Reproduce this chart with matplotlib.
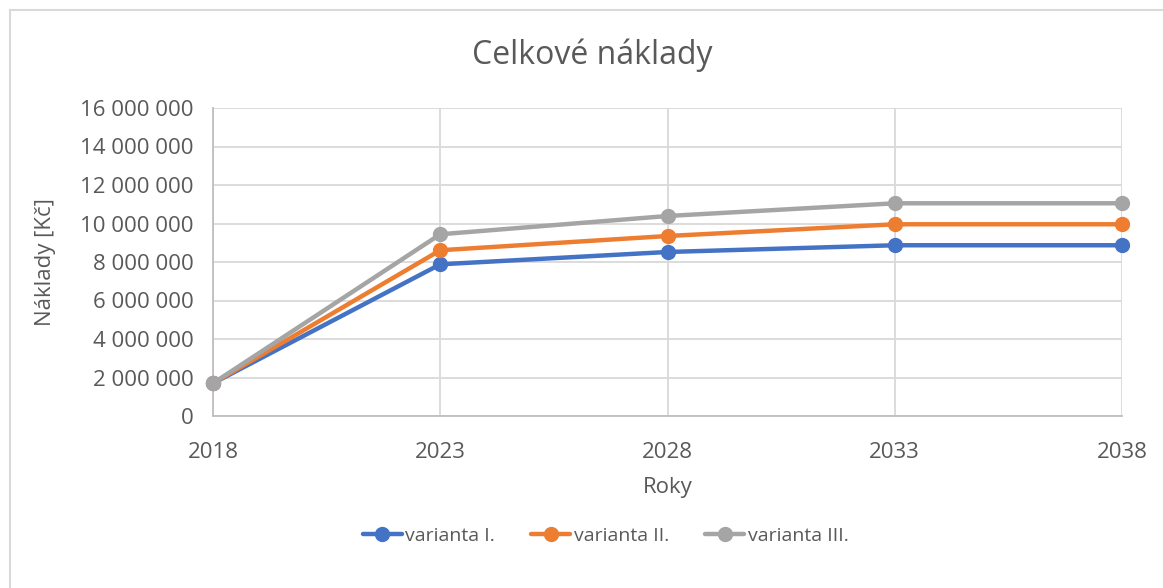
import matplotlib
matplotlib.use("Agg")
import matplotlib.pyplot as plt
from matplotlib.ticker import FuncFormatter, MultipleLocator
from matplotlib.lines import Line2D

plt.rcParams['font.family'] = ['Open Sans', 'DejaVu Sans']

years = [2018, 2023, 2028, 2033, 2038]
varianta_1 = [1700000, 7880000, 8520000, 8870000, 8870000]
varianta_2 = [1700000, 8610000, 9350000, 9960000, 9960000]
varianta_3 = [1700000, 9440000, 10390000, 11050000, 11050000]
series_names = ["varianta I.", "varianta II.", "varianta III."]
colors = ["#4472C4", "#ED7D31", "#A5A5A5"]

W, H = 1163, 588
fig = plt.figure(figsize=(W / 100, H / 100), dpi=100)

# chart border (left and top visible)
fig.add_artist(Line2D([9.5 / W, 9.5 / W], [0, 1 - 10 / H], transform=fig.transFigure,
                      color="#D9D9D9", lw=1.5))
fig.add_artist(Line2D([9.5 / W, 1], [1 - 10 / H, 1 - 10 / H], transform=fig.transFigure,
                      color="#D9D9D9", lw=1.5))

left, right, top, bottom = 213, 1122, 108, 416
ax = fig.add_axes([left / W, 1 - bottom / H, (right - left) / W, (bottom - top) / H])

for vals, name, c in zip([varianta_1, varianta_2, varianta_3], series_names, colors):
    ax.plot(years, vals, color=c, lw=3.2, marker='o', markersize=10, label=name,
            solid_capstyle='round', clip_on=False, zorder=3)

ax.set_xlim(2018, 2038)
ax.set_ylim(0, 16000000)
ax.set_xticks(years)
ax.yaxis.set_major_locator(MultipleLocator(2000000))
ax.yaxis.set_major_formatter(FuncFormatter(lambda v, p: f"{int(v):,}".replace(",", " ")))
ax.grid(True, color="#D9D9D9", lw=1.3)
ax.set_axisbelow(True)
for s in ["top", "right"]:
    ax.spines[s].set_visible(False)
for s in ["left", "bottom"]:
    ax.spines[s].set_color("#BFBFBF")
    ax.spines[s].set_linewidth(1.3)
ax.tick_params(length=0, labelsize=16, colors="#595959")
ax.tick_params(axis='y', pad=14)
ax.tick_params(axis='x', pad=19)

ax.set_xlabel("Roky", fontsize=16, color="#595959")
ax.set_ylabel("Náklady [Kč]", fontsize=16, color="#595959")
ax.xaxis.label.set_va('center')
ax.yaxis.label.set_va('center')
ax.yaxis.label.set_ha('center')
ax.xaxis.set_label_coords(0.5, (bottom - 487) / (bottom - top))
ax.yaxis.set_label_coords((45 - left) / (right - left), 0.5)

fig.text(592 / W, 1 - 55 / H, "Celkové náklady", ha='center', va='center',
         fontsize=23, color="#595959")

leg = ax.legend(loc='center', bbox_to_anchor=(0.432, (bottom - 536) / (bottom - top)),
                ncol=3, frameon=False, fontsize=14, handlelength=2.0,
                columnspacing=1.85, handletextpad=0.2)
for t in leg.get_texts():
    t.set_color("#595959")

fig.savefig("out.png", dpi=100, facecolor="white")
